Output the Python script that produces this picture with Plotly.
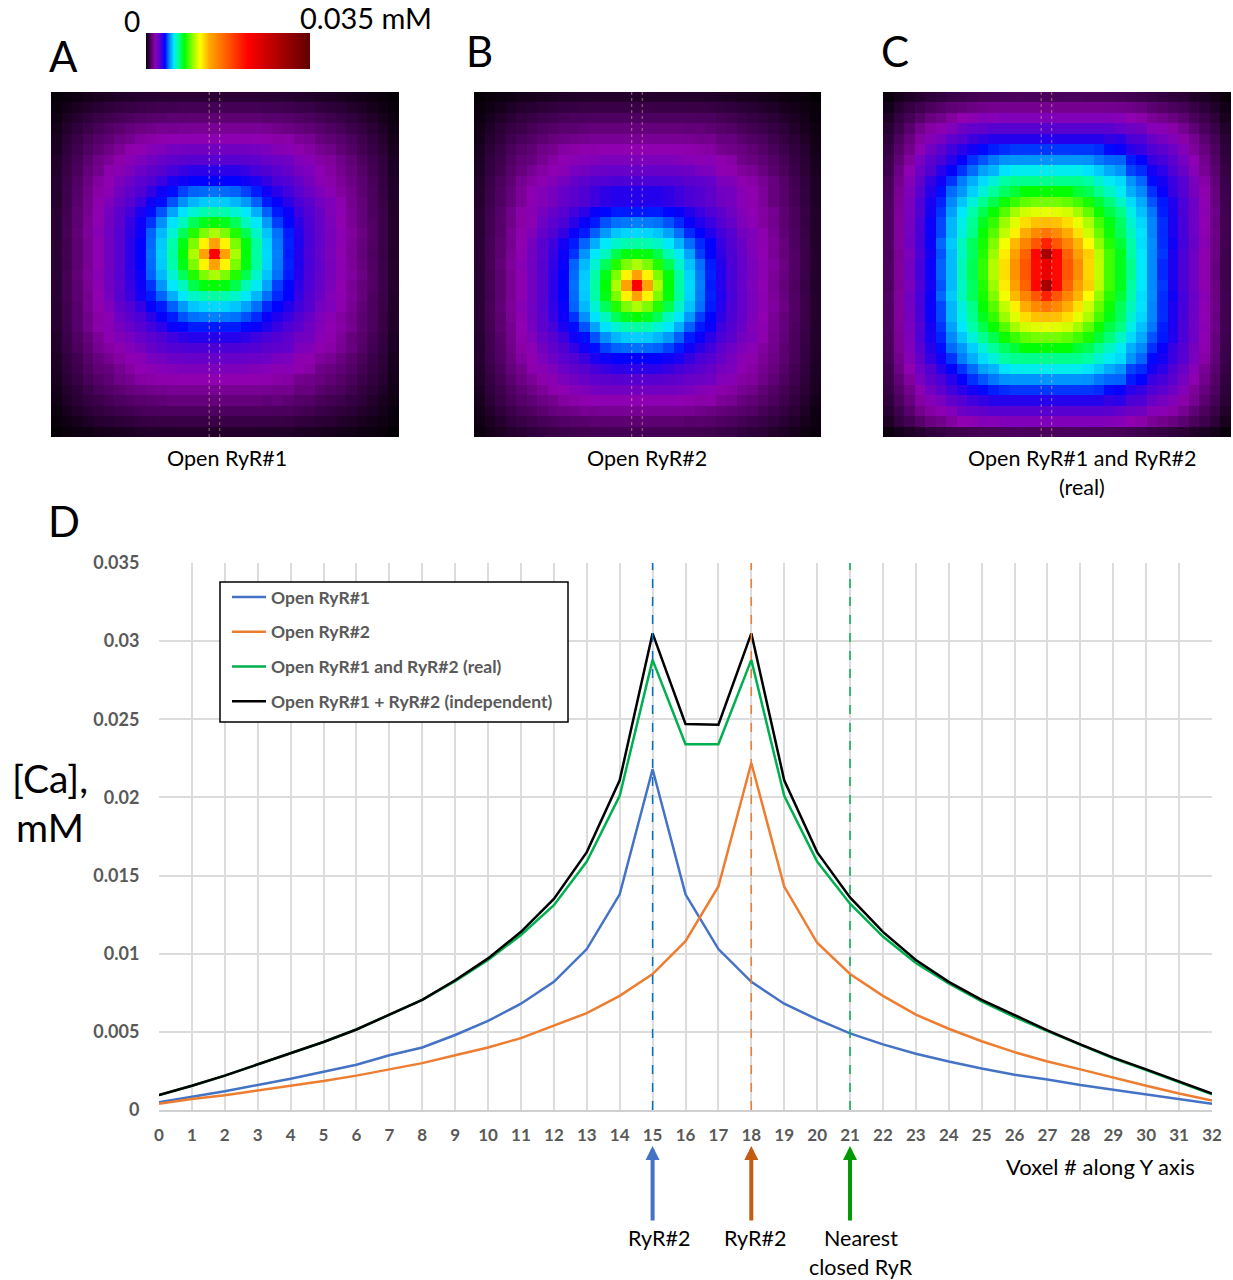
import plotly.graph_objects as go

W, H = 1233, 1280
FONT = "Lato"

voxels = list(range(33))
open_ryr1 = [.00050,.00085,.00120,.00160,.00200,.00245,.00290,.00350,.00400,.00480,.00570,.00680,.00820,.01030,.01380,.02180,.01380,.01030,.00820,.00680,.00580,.00490,.00420,.00360,.00310,.00265,.00225,.00195,.00160,.00130,.00100,.00070,.00040]
open_ryr2 = [.00040,.00070,.00095,.00125,.00155,.00185,.00220,.00260,.00300,.00350,.00400,.00460,.00540,.00620,.00730,.00870,.01080,.01430,.02220,.01430,.01070,.00870,.00730,.00610,.00520,.00440,.00370,.00310,.00260,.00205,.00155,.00105,.00060]
open_real = [.00095,.00155,.00220,.00290,.00360,.00435,.00515,.00610,.00705,.00825,.00960,.01120,.01310,.01590,.02010,.02880,.02340,.02340,.02880,.02010,.01590,.01320,.01110,.00940,.00810,.00695,.00595,.00505,.00415,.00330,.00255,.00180,.00100]
open_indep = [.00095,.00155,.00220,.00290,.00360,.00435,.00515,.00610,.00705,.00830,.00970,.01140,.01350,.01650,.02110,.03050,.02470,.02465,.03050,.02110,.01650,.01360,.01140,.00960,.00820,.00705,.00605,.00510,.00420,.00335,.00260,.00180,.00105]

series_names = ["Open RyR#1", "Open RyR#2", "Open RyR#1 and RyR#2 (real)", "Open RyR#1 + RyR#2 (independent)"]
series_colors = ["#4472c4", "#ed7d31", "#00b050", "#000000"]

y_ticks = [0, .005, .01, .015, .02, .025, .03, .035]
y_labels = ["0", "0.005", "0.01", "0.015", "0.02", "0.025", "0.03", "0.035"]

# heat maps: calcium per voxel in units of 1e-4 mM
map_a = [
[.7,1.3,1.8,2.3,2.9,3.3,3.7,4,4.4,4.6,4.7,4.9,5,5,4.9,5,4.9,5,5,4.9,4.8,4.7,4.6,4.2,3.9,3.5,3.2,2.9,2.5,2,1.6,1.2,.6],
[1.3,2.2,3.1,4,4.8,5.6,6.3,6.8,7.4,7.8,8.1,8.4,8.5,8.5,8.5,8.5,8.5,8.5,8.5,8.5,8.3,8.1,7.9,7.2,6.9,6,5.5,5,4.2,3.5,2.6,1.8,1.1],
[1.8,3.1,4.3,5.6,6.8,7.8,8.9,9.7,10.5,11.1,11.3,12,11.9,12,12,12,12,12,12,12,11.3,11.4,11.1,10.2,9.6,8.6,7.7,6.9,5.9,4.8,3.8,2.6,1.5],
[2.4,4,5.6,7.5,8.9,10.3,11.7,13.1,14,14.8,15.7,15.4,16,16,16,16,16,16,16,16,15.7,14.8,14,13.1,12.2,11.2,10.1,9,7.6,6.3,4.9,3.5,1.9],
[2.9,5,7,9.1,11,12.2,14.4,15.3,17.3,18.1,18.9,19.6,20,20,20,20,20,20,20,19.6,18.9,18.1,18.4,16.5,15.6,13.4,12.4,11.1,9.4,7.7,6,4.3,2.4],
[3.3,5.6,7.8,10.3,12.2,14.4,16.5,18.6,19.4,21.3,22,23.8,24.4,24.5,24.5,24.5,24.5,24.5,24.4,23.8,23.1,21.3,20.5,18.6,17.7,15.6,14.6,12.4,10.6,8.7,6.8,4.9,2.8],
[3.8,6.4,9,11.8,14.4,16.5,18.6,20.5,22.6,24.4,26.2,27.8,28.4,29,29,29,29,29,28.4,27.8,26.2,25.5,24.9,21.7,20.9,17.7,16.8,14.6,12.3,10,7.9,5.6,3.2],
[4.1,7,9.7,13.1,15.3,18.6,20.5,22.6,25.5,27.5,29.2,31.8,33.6,35,35,35,35,35,33.6,31.8,30.2,28.6,26.6,23.7,22.8,19.7,17.7,15.5,13.3,10.9,8.4,6,3.4],
[4.5,7.6,10.6,14,17.3,19.4,22.6,25.5,28.6,30.2,33.2,37.1,38.5,40,40,40,40,40,38.5,37.1,34.2,31.3,29.7,26.6,23.7,20.5,18.4,16.4,14.2,11.8,9.1,6.5,3.7],
[4.6,7.8,11,14.8,18.1,20.2,24.4,27.5,30.2,34.2,38.2,41,44.7,46.9,47.5,48,47.5,46.9,44.7,42,38.2,35.3,32.4,28.6,25.5,22.4,20.3,17.2,15.1,11.9,9.4,6.6,3.8],
[4.6,8,11.3,15.3,18.9,22,26.2,29.2,33.2,38.2,41,45.8,50.5,54.6,56.6,57,56.6,54.6,51.5,46.8,42,39.2,35.3,31.3,28.3,24.2,22.2,19,15.3,12.7,9.7,6.8,3.8],
[4.9,8.4,12,15.4,19.6,23.8,28,32,37,41,45.8,52.6,59,63.6,67,68,67,63.6,59.6,53.6,46.8,41.9,39,33,29.8,25.9,21.8,19.8,16,13.1,10,7.2,4],
[5,8.7,11.9,16.2,20,24.5,28.6,33.7,38.6,43.7,50.5,59,65.5,74.6,80,82,80,74.6,65.5,60,51.5,44.5,40.5,34.8,30.7,26.6,22.5,19.3,16,13,10.4,7.4,4.2],
[5,8.8,12.6,16.7,20.8,24.9,29,34.5,39,47,54.8,63.6,74.4,86,97,103,97,86,75.4,64.6,55.8,48,42,36,31,27,23,20,17,14,10.6,7.4,4.2],
[4.9,8.4,12,16,20,24.5,29,35,40,47.5,56.5,67.3,80.5,97,118,138,118,97,81.5,68.5,57.6,48.6,42.5,36.5,31.5,27,23,20,16.5,13.5,10.4,7.3,4.2],
[5,8.5,12,16,20,24.5,29,35,40,48,57,68,82,103,138,218,138,103,82,68,58,49,42,36,31,26.5,22.5,19.5,16,13,10,7,4],
[4.9,8.4,12,16,20,24.5,29,35,40,47.5,56.5,67.3,80.5,97,118,138,118,97,81.5,68.5,57.6,48.6,42.5,36.5,31.5,27,23,20,16.5,13.5,10.4,7.3,4.2],
[5,8.8,12.6,16.7,20.8,24.9,29,34.5,39,47,54.8,63.6,74.4,86,97,103,97,86,75.4,64.6,55.8,48,42,36,31,27,23,20,17,14,10.6,7.4,4.2],
[5,8.7,11.9,16.2,20,24.5,28.6,33.7,38.6,43.7,51,59.6,65.5,75.6,81,82,81,75.6,66.5,60.6,52.5,44.5,40.5,34.8,30.7,26.6,22.5,19.3,16,13,10.5,7.5,4.3],
[5,8.6,12,15.4,19.6,23.8,29,32.8,38,42,47,53.6,60,64.6,67,68,67,64.6,60,54.6,47.8,42.9,40,34,29.8,25.9,21.8,19.8,16.5,13.3,10,7.3,4.1],
[4.7,8.1,11.3,15.7,18.9,22,27.3,30.2,34.2,39.2,42,46.8,51.5,56,57.6,58,57.6,56,52.5,47.8,43,40.3,36.4,32.4,29.4,24.2,22.2,19,15.8,12.5,10,7,3.9],
[4.7,8.1,11.3,14.8,18.1,20.2,25.5,28.6,31.3,35.3,39.2,42,45.8,47.9,48.5,49,48.5,47.9,45.8,43,39.2,36.4,33.5,29.7,26.6,22.4,20.3,17.2,15.1,11.9,9.6,6.7,3.9],
[4.7,7.9,11.2,15.2,18.4,20.5,23.7,26.6,29.2,32.4,35,39.2,40.6,42,42,42,42,42,40.6,39.2,36.4,33.5,30.8,28,24.8,21.7,19.6,17.6,15.4,12,9.6,6.8,3.9],
[4.2,7.3,10.2,13.1,16.5,19.7,21.7,23.7,26.6,28.6,30.2,32.9,34.7,36,36,36,36,36,34.7,32.9,31.3,29.7,27.8,24.9,24,20.9,18.9,16.7,13.3,11.3,8.7,6.2,3.5],
[4.1,6.9,9.6,12.2,15.6,17.7,19.7,21.7,23.7,26.6,28.3,30,30.5,31,31,31,31,31,30.5,30,28.3,27.8,27.1,22.8,22,18.9,18,15.9,13.5,10.8,8.3,5.9,3.4],
[3.5,6.1,8.4,11.2,13.4,15.6,17.7,19.7,20.5,23.5,24.2,25.9,26.3,26.5,26.5,26.5,26.5,26.5,26.3,25.9,25.3,23.5,22.8,19.7,18.9,16.8,15.9,13.6,11.5,9.5,7.3,5.3,3],
[3.3,5.6,7.7,10.1,12.4,13.4,15.6,17.7,19.6,20.3,21.1,21.8,22.5,22.5,22.5,22.5,22.5,22.5,22.5,21.8,21.1,20.3,20.7,18.9,18,14.6,13.6,12.5,10.5,8.6,6.7,4.9,2.7],
[3,5,6.8,9.2,11,12.4,14.6,15.5,17.6,18.2,19,18.7,19.3,19.5,19.5,19.5,19.5,19.5,19.3,19.5,19,18.2,17.6,15.5,14.6,13.6,12.3,11,9.2,7.6,6,4.4,2.3],
[2.5,4.2,5.8,7.6,9.3,10.6,11.9,13.3,14.2,15.1,15.3,16,16,16,16,16,16,16,16,16,15.8,15.1,15.3,13.3,13.5,11.6,10.4,9.4,7.9,6.4,5,3.6,2.1],
[2,3.5,4.9,6.3,7.5,8.7,9.8,10.6,11.5,11.7,12.5,13,13,13,13,13,13,13,13,13,12.5,12.9,12,11.1,10.6,9.3,8.4,7.6,6.5,5.4,4.1,2.8,1.7],
[1.5,2.7,3.8,4.8,6,6.8,7.6,8.2,9,9.4,9.7,10,10,10,10,10,10,10,10,10,9.9,9.7,9.4,8.7,8.1,7.3,6.5,5.8,5.1,4.1,3.3,2.3,1.2],
[1,1.8,2.6,3.4,4.3,4.7,5.3,5.7,6.3,6.7,6.8,7,7,7,7,7,7,7,7,7,7,6.8,6.7,6.1,5.7,5.1,4.7,4.1,3.6,2.8,2.3,1.7,.9],
[.6,1,1.5,1.9,2.4,2.6,3,3.2,3.6,3.8,3.9,4,4,4,4,4,4,4,4,4,3.9,3.9,3.8,3.5,3.2,2.9,2.7,2.3,2.1,1.6,1.3,1,.4],
]
# panel B looks like panel A upside down with its peak on voxel 18
map_b_rows = [32,31,30,29,28,27,26,25,24,23,23,22,21,20,19,18,17,16,15,14,13,12,11,10,9,8,7,6,5,4,3,2,1]
map_c_top = [
[1.4,2.5,3.6,4.6,5.8,6.3,7.2,7.7,8.4,8.8,9,9.3,9.4,9.4,9.2,9.5,9.2,9.4,9.4,9.3,9.1,9.1,8.8,8.2,7.6,6.9,6.3,5.6,5,3.9,3.2,2.4,1.1],
[2.5,4.4,6.3,8,9.7,11,12.3,13,13.9,14.7,15.5,15.5,15.5,15.5,15.5,15.5,15.5,15.5,15.5,15.5,15.5,15.5,15.1,14.3,13.4,11.8,10.9,9.7,8.5,6.9,5.5,3.9,2.2],
[3.5,6.3,8.6,11.1,13.6,14.9,17.1,19.2,19.9,21.8,21.2,22,22,22,22,22,22,22,22,22,22,21.8,21.2,19.2,18.4,16.2,15.2,13.6,11.8,9.5,7.6,5.3,2.9],
[4.8,8,11.2,15.3,17.7,19.9,21.9,25.2,27,27.5,29,29,29,29,29,29,29,29,29,29,29,28.7,27,25.2,24.5,21.2,20.4,18.1,15.6,12.5,9.7,6.9,3.9],
[5.8,9.8,13.5,17.7,21.3,23.4,27.9,29.8,32.7,34.2,35.7,36,36,36,36,36,36,36,36,36,35.7,34.2,35,31,30.5,26,23.9,21.8,18.1,15.6,11.7,8.5,4.9],
[6.6,11.2,15,20,24.7,28,32.5,35.4,38,40.8,42.2,43.3,44,44,44,44,44,44,44,44,43.3,40.8,39.3,35.4,33.8,30.6,28.6,25.3,21.8,16.6,13.5,9.8,5.5],
[7.6,12.7,17.2,23.4,28,31.3,35.5,39.6,43.5,46,48.4,50.6,51,51,51,51,51,51,51,50.6,48.4,47.2,47,42,40.4,33.8,31.9,28.6,23.9,20,15,10.7,6],
[8,14.5,19.4,25.4,30,35.5,39.6,43.7,47.6,52.2,54.4,58.9,61,61,61,61,61,61,61,58.9,56.6,53.3,51,44.8,43.2,38,35,30.5,25.8,21,16,11.8,6.7],
[9,15.4,21.4,27.3,34.2,38.4,43.7,48.7,53.6,58.2,62.7,68,70,70,70,70,70,70,70,68,63.8,60.5,58.1,51,47.2,40.8,37.8,33.5,29,23,18,12.7,7.2],
[9.2,16.2,22.1,29,35.7,41.1,47.6,51.3,57,63,68.7,73.8,77.7,81.8,82,82,82,81.8,77.7,74.9,69.8,65.2,60.5,53.6,49.9,43.5,39.3,33.9,29.5,23.7,18.9,13.4,7.6],
[9.7,16.5,22.7,30.7,37.3,42.6,49.9,56,63,69.8,75.3,83.7,88.8,93.7,96,96,96,93.7,89.9,84.8,77.4,71.9,65.2,58.2,53.3,46,41.9,36.6,31.1,25.4,19.6,13.5,8],
[10,17,23.2,29.9,37.6,43.9,52.2,59.4,67.6,75.3,82.7,92.4,101.9,108.7,111,112,111,108.7,101.9,93.5,83.7,76.3,70.9,61.6,55.5,48.4,42.2,36.8,31,25,20.2,14.3,8.2],
[10,17.1,23.7,31.4,38.9,45.1,54.5,61.6,69.6,79.5,88.2,100.9,111.2,123.4,130,131,130,123.4,112.3,103,90.3,80.6,73.8,63.7,57.8,49.5,43.3,37,31.6,25.1,19.6,13.8,8.1],
[9.9,17.1,24.2,31.6,38.9,45.2,54.6,62.5,70.4,82.6,92.6,106,119.3,135,149.5,159,149.5,135,122.4,108,94.6,83.6,74.6,65.7,58.9,49.5,43.2,37,31.9,25.4,20,14.4,8.1],
[10.2,17.1,24.5,31.8,39,47.3,56.4,65.5,74.5,84.5,97.4,114.2,132,152.5,175,201,175,152.5,133,116.3,99.4,86.5,77.6,67.6,58.5,50.4,43.3,38.2,32,25.7,20.4,14,8.2],
[9.7,16.5,23,31,38,46,55,65,74,86,101,120,139,169,215,288,215,169,139,127,105,90,80,68,60,50,44,37,31,25,19,14,7.8],
[9.8,17,24,32,39,47,55,66,75,88,104,123,146,175,212,234,212,175,148,125,106,90,80,70,60,50,43,37,31,25,19,13.5,7.8],
]
# panel C: lower half repeats the upper half about the gap between voxels 16 and 17
map_c_rows = list(range(17)) + [16,15,14,13,12,11,10,9,8,7,6,5,4,3,2,0]
map_b = [map_a[i] for i in map_b_rows]
map_c = [map_c_top[i] for i in map_c_rows]

colors = [
[0,"#000000"],[.014,"#2a0035"],[.055,"#9000b0"],[.09,"#4a00d8"],[.115,"#0000ff"],
[.14,"#0080ff"],[.17,"#00e8ff"],[.195,"#00ffa0"],[.235,"#00ff00"],[.29,"#a0ff00"],
[.33,"#ffff00"],[.39,"#ffa500"],[.62,"#ff0000"],[.82,"#a80000"],[1,"#600000"],
]

fig = go.Figure()

panels = [("x2","y2",51,399,map_a),("x3","y3",474,821,map_b),("x4","y4",883,1231,map_c)]
layout_axes = {}
shapes = []
for xa, ya, left, right, z in panels:
    fig.add_trace(go.Heatmap(z=z, xaxis=xa, yaxis=ya, coloraxis="coloraxis", hoverinfo="skip", showlegend=False))
    n = xa[1:]
    layout_axes["xaxis"+n] = dict(domain=[left/W, right/W], range=[-.5,32.5], visible=False, anchor=ya)
    layout_axes["yaxis"+n] = dict(domain=[1-437/H, 1-92/H], range=[32.5,-.5], visible=False, anchor=xa)
    for xv in (14.5, 15.5):
        shapes.append(dict(type="line", xref=xa, yref=ya, x0=xv, x1=xv, y0=-.5, y1=32.5,
                           line=dict(color="rgba(240,175,175,0.6)", width=1, dash="dot")))

for xv, c in ((15,"#0070c0"),(18,"#ed7d31"),(21,"#00b050")):
    shapes.append(dict(type="line", xref="x", yref="y", x0=xv, x1=xv, y0=0, y1=.035,
                       line=dict(color=c, width=1.5, dash="dash")))

# white legend panel with black border, drawn beneath the legend entries
shapes.append(dict(type="rect", xref="paper", yref="paper", x0=220/W, x1=568/W, y0=1-722/H, y1=1-582/H,
                   fillcolor="white", line=dict(color="#000000", width=1.5), layer="above"))

for vals, name, color in zip((open_ryr1, open_ryr2, open_real, open_indep), series_names, series_colors):
    fig.add_trace(go.Scatter(x=voxels, y=vals, mode="lines", name=name, legendgroup=name,
                             line=dict(color=color, width=2.5)))

def label(px, py, text, size, color="#000000", bold=False):
    return dict(x=px/W, y=1-py/H, xref="paper", yref="paper", text=f"<b>{text}</b>" if bold else text,
                showarrow=False, xanchor="center", yanchor="middle",
                font=dict(family=FONT, size=size, color=color))

notes = [
    label(63,56,"A",42), label(479,51,"B",42), label(895,51,"C",42), label(64,521,"D",42),
    label(132,21,"0",28), label(366,18,"0.035 mM",29),
    label(227,458,"Open RyR#1",21.5), label(647,458,"Open RyR#2",21.5),
    label(1082,458,"Open RyR#1 and RyR#2",21.5), label(1082,487,"(real)",21.5),
    label(50,778,"[Ca],",39), label(50,827,"mM",39),
    label(1100,1166,"Voxel # along Y axis",22),
    label(659,1238,"RyR#2",21.5), label(755,1238,"RyR#2",21.5),
    label(861,1238,"Nearest",21.5), label(861,1267,"closed RyR",21.5),
]
for xv, c in ((15,"#4472c4"),(18,"#c55a11"),(21,"#009900")):
    notes.append(dict(x=xv, xref="x", y=1-1146/H, yref="paper", text="", showarrow=True, ax=0, ay=76,
                      arrowcolor=c, arrowwidth=4, arrowhead=2, arrowsize=.7, standoff=0))

fig.update_layout(
    width=W, height=H, autosize=False, margin=dict(l=0,r=0,t=0,b=0,autoexpand=False),
    paper_bgcolor="white", plot_bgcolor="white",
    coloraxis=dict(cmin=0, cmax=350, colorscale=colors,
                   colorbar=dict(orientation="h", x=146/W, xanchor="left", y=1-69/H, yanchor="bottom",
                                 len=164, lenmode="pixels", thickness=36, thicknessmode="pixels",
                                 showticklabels=False, ticks="", outlinewidth=0, xpad=0, ypad=0)),
    xaxis=dict(domain=[159/W,1212/W], range=[0,32], tickmode="array", tickvals=voxels,
               ticktext=[str(v) for v in voxels], showgrid=True, gridcolor="#dcdcdc", gridwidth=1.5,
               zeroline=False, showline=True, linecolor="#d0d0d0", linewidth=1.5,
               ticks="outside", ticklen=9, tickcolor="rgba(0,0,0,0)",
               tickfont=dict(family=FONT, size=17, color="#595959", weight="bold"), anchor="y"),
    yaxis=dict(domain=[1-1110/H,1-563/H], range=[0,.035], tickmode="array", tickvals=y_ticks,
               ticktext=y_labels, showgrid=True, gridcolor="#dcdcdc", gridwidth=1.5, zeroline=False,
               ticks="outside", ticklen=15, tickcolor="rgba(0,0,0,0)",
               tickfont=dict(family=FONT, size=18, color="#595959", weight="bold"), anchor="x"),
    legend=dict(x=227/W, y=1-579/H, xanchor="left", yanchor="top", bgcolor="rgba(0,0,0,0)",
                borderwidth=0, tracegroupgap=9, itemwidth=34,
                font=dict(family=FONT, size=17.5, color="#595959", weight="bold")),
    shapes=shapes, annotations=notes, **layout_axes,
)
fig.write_html("out.html", config={"displayModeBar": False},
               post_script="document.body.style.margin='0';window.dispatchEvent(new Event('resize'));")
